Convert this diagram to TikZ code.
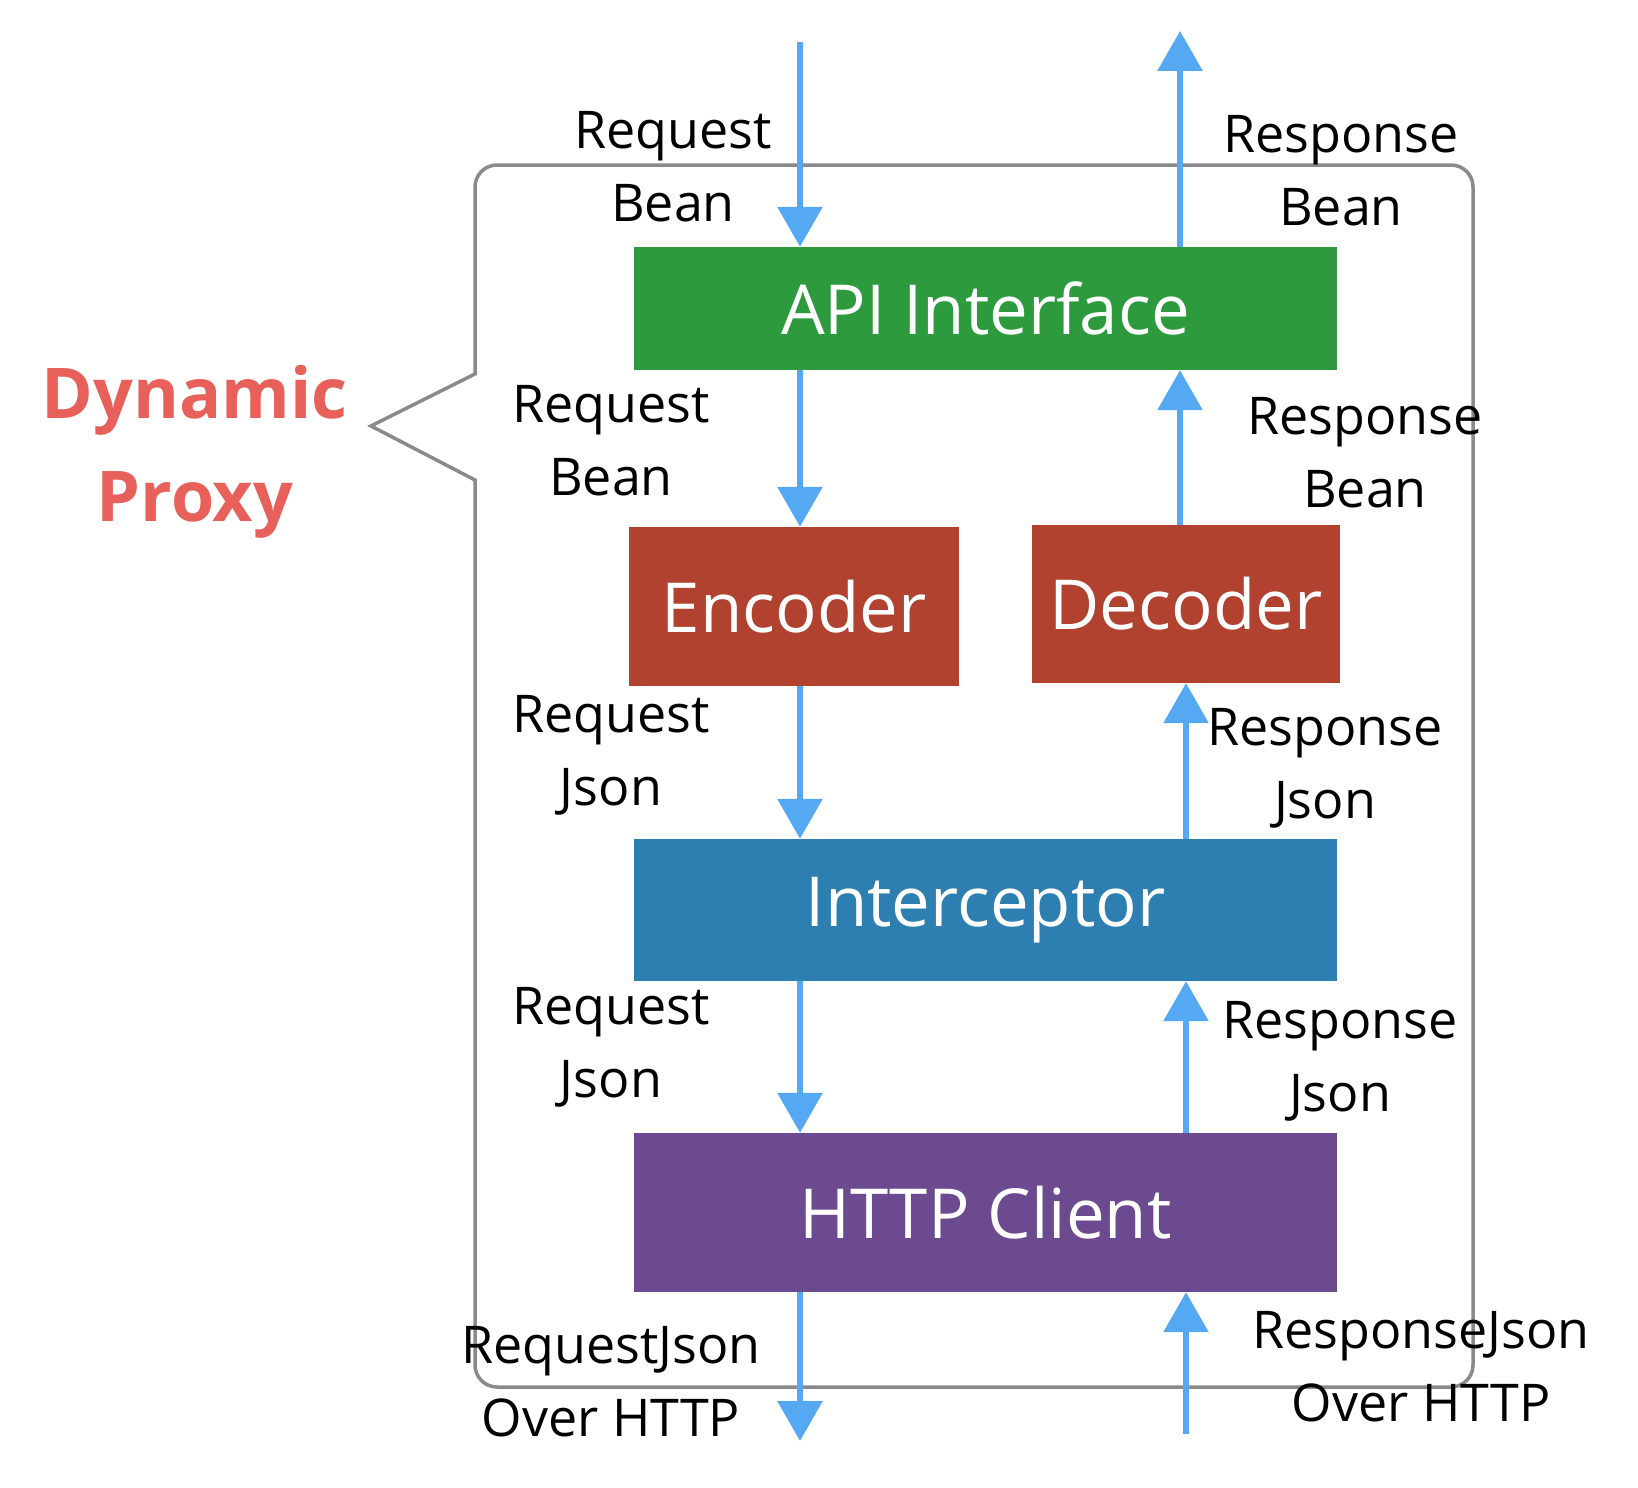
\documentclass[tikz,border=0pt]{standalone}
\usepackage{fontspec}
\setmainfont{Open Sans}
\usetikzlibrary{arrows.meta}

\definecolor{apigreen}{HTML}{2E9A3E}
\definecolor{codecred}{HTML}{B0422F}
\definecolor{icptblue}{HTML}{2E7FB1}
\definecolor{httppurple}{HTML}{6B4A8F}
\definecolor{flowblue}{HTML}{55A9F2}
\definecolor{framegray}{HTML}{8A8A8E}
\definecolor{proxyred}{HTML}{E8605A}

\tikzset{
  block/.style={shape=rectangle, inner sep=0pt, text=white, font=\fontsize{69}{75}\selectfont},
  flow/.style={draw=flowblue, line width=6pt, -{Triangle[width=44pt,length=40pt]}},
  lbl/.style={align=center, inner sep=0pt, font=\fontsize{52}{73}\selectfont},
}

\begin{document}
\begin{tikzpicture}[x=1pt, y=-1pt]
            \useasboundingbox (0,0) rectangle (1638,1488);

            \draw[framegray, line width=3.5pt] (475,480) [rounded corners=22pt] -- (475,1387) -- (1473,1387) -- (1473,165) -- (475,165) [sharp corners] -- (475,374) -- (371,426) -- cycle;
            \node[align=center, text=proxyred, font=\bfseries\fontsize{70}{103}\selectfont] (dp) at (195, 452) {Dynamic\\Proxy};

            \coordinate (reqin) at (800, 42);
            \coordinate (respout) at (1180, 31);
            \coordinate (reqout) at (800, 1441);
            \coordinate (respin) at (1186, 1434);

            \node[block, fill=apigreen, minimum width=703pt, minimum height=123pt] (api) at (985.5, 308.5) {API Interface};
            \node[block, fill=codecred, minimum width=330pt, minimum height=159pt] (enc) at (794, 606.5) {Encoder};
            \node[block, fill=codecred, minimum width=308pt, minimum height=158pt] (dec) at (1186, 604) {Decoder};
            \node[block, fill=icptblue, minimum width=703pt, minimum height=142pt] (icpt) at (985.5, 910) {Interceptor};
            \node[block, fill=httppurple, minimum width=703pt, minimum height=159pt] (http) at (985.5, 1212.5) {HTTP Client};

            \draw[flow] (reqin) -- (api.north -| reqin);
            \draw[flow] (api.north -| respout) -- (respout);
            \draw[flow] (api.south -| reqin) -- (enc.north -| reqin);
            \draw[flow] (dec.north -| respout) -- (api.south -| respout);
            \draw[flow] (enc.south -| reqin) -- (icpt.north -| reqin);
            \draw[flow] (icpt.north -| respin) -- (dec.south -| respin);
            \draw[flow] (icpt.south -| reqin) -- (http.north -| reqin);
            \draw[flow] (http.north -| respin) -- (icpt.south -| respin);
            \draw[flow] (http.south -| reqin) -- (reqout);
            \draw[flow] (respin) -- (http.south -| respin);

            \node[lbl] (req1) at (673, 167) {Request\\Bean};
            \node[lbl] (resp1) at (1341, 171) {Response\\Bean};
            \node[lbl] (req2) at (611, 441) {Request\\Bean};
            \node[lbl] (resp2) at (1365, 453) {Response\\Bean};
            \node[lbl] (req3) at (611, 755) {Request\\Json};
            \node[lbl] (resp3) at (1325, 768) {Response\\Json};
            \node[lbl] (req4) at (611, 1047) {Request\\Json};
            \node[lbl] (resp4) at (1340, 1061) {Response\\Json};
            \node[lbl] (req5) at (611, 1382) {RequestJson\\Over HTTP};
            \node[lbl] (resp5) at (1421, 1367) {ResponseJson\\Over HTTP};

        \end{tikzpicture}
\end{document}
